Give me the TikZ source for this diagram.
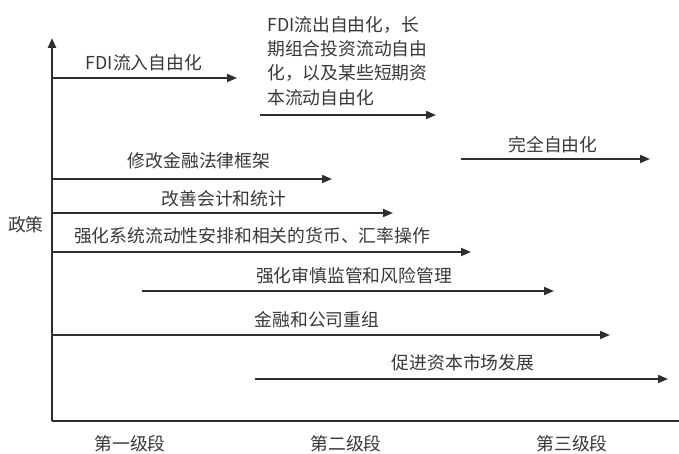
\documentclass[tikz,border=0pt]{standalone}
\usepackage{fontspec}
\newfontfamily\cjk{Noto Sans CJK SC}
\usetikzlibrary{arrows.meta}
\definecolor{ink}{HTML}{2E2E2E}
\definecolor{txt}{HTML}{383838}
\tikzset{
  lbl/.style={text=txt,font=\cjk\fontsize{17.8}{24.3}\selectfont,inner sep=0pt},
  arr/.style={draw=ink,line width=1.8pt,-{Triangle[length=10pt,width=8pt]}},
  axis/.style={draw=ink,line width=2.4pt}
}
\begin{document}
\begin{tikzpicture}[x=1pt,y=-1pt]
\useasboundingbox (0,0) rectangle (679,454);
% axes
\coordinate (o) at (52,421);
\coordinate (ytop) at (52,38);
\coordinate (xend) at (679,421);
\draw[axis,-{Triangle[length=10pt,width=8pt]}] (o) -- (ytop);
\draw[axis] (o) -- (xend);
% arrows
\coordinate (a1s) at (52,78);  \coordinate (a1e) at (237,78);
\coordinate (a2s) at (260,115); \coordinate (a2e) at (436,115);
\coordinate (a3s) at (461,159); \coordinate (a3e) at (650,159);
\coordinate (a4s) at (52,179); \coordinate (a4e) at (332,179);
\coordinate (a5s) at (52,213); \coordinate (a5e) at (393,213);
\coordinate (a6s) at (52,252); \coordinate (a6e) at (471,252);
\coordinate (a7s) at (142,291); \coordinate (a7e) at (554,291);
\coordinate (a8s) at (52,335); \coordinate (a8e) at (610,335);
\coordinate (a9s) at (255,379); \coordinate (a9e) at (668,379);
\foreach \i in {1,...,9} {\draw[arr] (a\i s) -- (a\i e);}
% labels
\node[lbl] (l1) at (144,63) {FDI流入自由化};
\node[lbl,anchor=west,align=left] (l2) at (267,61) {FDI流出自由化，长\\期组合投资流动自由\\化，以及某些短期资\\本流动自由化};
\node[lbl] (l3) at (553,145) {完全自由化};
\node[lbl] (l4) at (199,161) {修改金融法律框架};
\node[lbl] (l5) at (224,199) {改善会计和统计};
\node[lbl] (l6) at (252,236) {强化系统流动性安排和相关的货币、汇率操作};
\node[lbl] (l7) at (354,276) {强化审慎监管和风险管理};
\node[lbl] (l8) at (317,320) {金融和公司重组};
\node[lbl] (l9) at (463,363) {促进资本市场发展};
\node[lbl] (pol) at (26,225) {政策};
\node[lbl] (s1) at (130,444) {第一级段};
\node[lbl] (s2) at (346,444) {第二级段};
\node[lbl] (s3) at (572,444) {第三级段};
\end{tikzpicture}
\end{document}
